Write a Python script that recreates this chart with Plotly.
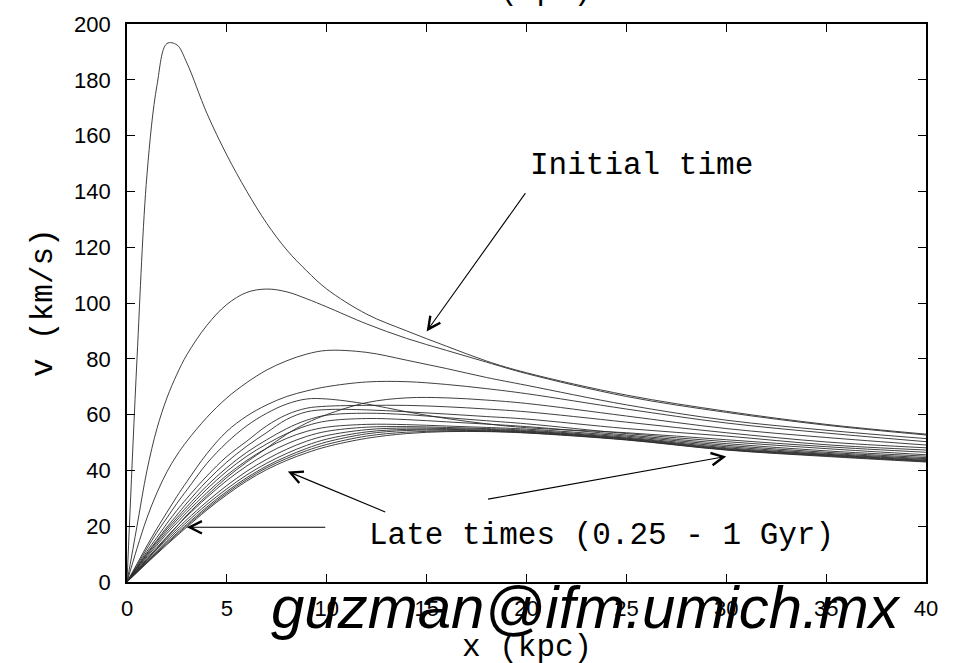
import plotly.graph_objects as go

# radius grid (kpc)
x_kpc = [0, 0.5, 1, 1.5, 2, 2.5, 3, 4, 5, 6, 7, 8, 9, 10, 12, 14, 16, 18, 20, 25, 30, 35, 40]

# rotation curves v (km/s), from the initial time to late times
v_initial = [0, 80, 146, 178, 193, 192.5, 186, 168, 153, 140, 128.5, 119, 111.5, 105, 96, 90, 84.5, 79.2, 75, 67, 61.2, 56.5, 53.0]
v_t02 = [0, 20, 40, 55, 66, 74.5, 81.5, 92, 99.5, 103.8, 105, 104, 101.5, 98.6, 92.5, 87.3, 83, 78.8, 74.7, 66.5, 60.8, 56.2, 52.7]
v_t03 = [0, 12, 23, 32, 39.5, 45.5, 50.5, 59, 66, 71.5, 76, 79.3, 81.7, 83, 82.3, 79.5, 76.5, 73.3, 70.5, 63.5, 58, 54.4, 51.4]
v_t04 = [0, 6.5, 13, 19.2, 25, 30.7, 36, 46, 54, 59.5, 63.5, 66.5, 68.5, 70, 71.7, 71.8, 70.8, 69.3, 67.5, 62, 57, 53.4, 50.3]
v_t05 = [0, 4, 8, 12, 16, 20, 24, 31, 37.5, 43, 48, 53, 57, 60, 64.3, 66, 66, 65.2, 64, 59.5, 55, 51.8, 49.1]
v_t06 = [0, 6, 12, 17.8, 23, 28.2, 33, 42.5, 50, 56, 60.5, 63.8, 65.6, 65.6, 63.8, 61, 58.6, 56.7, 55.3, 53.5, 51.0, 48.5, 46.5]
v_t07 = [0, 5.5, 11, 16, 21, 25.7, 30, 38, 45, 50.5, 56, 60, 62.3, 63, 63.3, 63.3, 62.8, 62, 61, 57.3, 53.5, 50.2, 48.1]
v_t08 = [0, 5.2, 10.3, 15, 19.7, 24, 28.3, 36.2, 43, 48.7, 53.6, 58.3, 61.0, 61.8, 61.7, 61.0, 60.2, 59.3, 58.4, 55, 52.3, 49.2, 47.3]
v_t09 = [0, 5, 10, 14.5, 19, 23, 27, 34.5, 41, 46.5, 51, 55, 58, 59.8, 60.5, 60, 58.9, 57.8, 56.7, 53.2, 50.3, 47.8, 45.6]
v_t10 = [0, 4.8, 9.5, 13.9, 18.2, 22.2, 26, 33.3, 39.7, 45.1, 49.5, 53.2, 56, 57.7, 58.6, 58.2, 57.4, 56.6, 55.7, 52.7, 49.6, 47.0, 45.1]
v_t11 = [0, 4.5, 9, 13.2, 17.4, 21.2, 25, 32, 38.3, 43.6, 48, 51.5, 54, 55.5, 56.5, 56.4, 55.9, 55.4, 54.8, 52.3, 49.0, 46.5, 44.6]
v_t12 = [0, 4.2, 8.4, 12.4, 16.3, 20, 23.6, 30.3, 36.4, 41.6, 46, 49.5, 52.2, 54, 55.5, 55.7, 55.4, 55, 54.4, 51.9, 48.5, 46.1, 44.2]
v_t13 = [0, 4.0, 8.0, 11.8, 15.5, 19, 22.4, 28.8, 34.6, 39.7, 44, 47.6, 50.5, 52.5, 54.6, 55.2, 55, 54.7, 54.1, 51.6, 48.1, 45.8, 43.9]
v_t14 = [0, 3.8, 7.6, 11.2, 14.8, 18.2, 21.5, 27.8, 33.4, 38.4, 42.6, 46.1, 49, 51.2, 53.8, 54.7, 54.7, 54.4, 53.9, 51.4, 47.8, 45.6, 43.6]
v_t15 = [0, 3.6, 7.2, 10.7, 14.2, 17.5, 20.7, 26.9, 32.5, 37.4, 41.6, 45, 47.9, 50.2, 53.1, 54.3, 54.4, 54.2, 53.7, 51.2, 47.6, 45.4, 43.4]
v_t16 = [0, 3.5, 7.0, 10.4, 13.8, 17.0, 20.2, 26.3, 31.9, 36.8, 41.0, 44.3, 47.1, 49.3, 52.3, 53.7, 54.1, 54.0, 53.5, 51.0, 47.4, 45.2, 43.2]
v_t17 = [0, 3.4, 6.8, 10.1, 13.4, 16.6, 19.7, 25.8, 31.3, 36.2, 40.3, 43.6, 46.3, 48.5, 51.5, 53.2, 53.9, 53.9, 53.4, 50.9, 47.3, 45.0, 43.0]

curves = [v_initial, v_t02, v_t03, v_t04, v_t05, v_t06, v_t07, v_t08, v_t09,
          v_t10, v_t11, v_t12, v_t13, v_t14, v_t15, v_t16, v_t17]

x_ticks = [0, 5, 10, 15, 20, 25, 30, 35, 40]
y_ticks = [0, 20, 40, 60, 80, 100, 120, 140, 160, 180, 200]

fig = go.Figure()
for v in curves:
    fig.add_trace(go.Scatter(x=x_kpc, y=v, mode="lines",
                             line=dict(color="#2a2a2a", width=0.9, shape="spline", smoothing=1.0),
                             showlegend=False, hoverinfo="skip"))

mono = "Liberation Mono, Courier New, monospace"
sans = "Liberation Sans, Arial, Helvetica, sans-serif"

axis_common = dict(showline=True, linecolor="black", linewidth=1.8, mirror="ticks",
                   ticks="inside", ticklen=8, tickwidth=1.2, tickcolor="black",
                   showgrid=False, zeroline=False,
                   tickfont=dict(family=sans, size=22, color="black"))

fig.update_xaxes(range=[0, 40], tickvals=x_ticks, ticktext=[str(t) for t in x_ticks],
                 ticklabelstandoff=6, **axis_common)
fig.update_yaxes(range=[0, 200], tickvals=y_ticks, ticktext=[str(t) for t in y_ticks],
                 ticklabelstandoff=10, **axis_common)

annotations = []
# arrows
arrows = [
    (15.0, 89.8, 20.0, 139.9),   # initial time
    (3.0, 19.6, 10.0, 19.6),     # late times, horizontal
    (8.05, 39.6, 13.0, 24.9),
    (30.0, 45.0, 18.0, 29.6),
]
for hx, hy, tx, ty in arrows:
    annotations.append(dict(x=hx, y=hy, ax=tx, ay=ty, xref="x", yref="y",
                            axref="x", ayref="y", text="", showarrow=True,
                            arrowhead=5, arrowsize=2.2, arrowwidth=1.1,
                            arrowcolor="black", standoff=0))

annotations.append(dict(x=20.05, y=149.4, xref="x", yref="y", text="Initial time",
                        showarrow=False, xanchor="left", yanchor="middle",
                        font=dict(family=mono, size=31, color="black")))
annotations.append(dict(x=12.0, y=16.6, xref="x", yref="y", text="Late times (0.25 - 1 Gyr)",
                        showarrow=False, xanchor="left", yanchor="middle",
                        font=dict(family=mono, size=31, color="black")))
# axis titles
annotations.append(dict(x=0.5, y=-0.117, xref="paper", yref="paper", text="x (kpc)",
                        showarrow=False, xanchor="center", yanchor="middle",
                        font=dict(family=mono, size=31, color="black")))
annotations.append(dict(x=-0.105, y=0.5, xref="paper", yref="paper", text="v (km/s)",
                        showarrow=False, xanchor="center", yanchor="middle", textangle=-90,
                        font=dict(family=mono, size=31, color="black")))
# clipped top label
annotations.append(dict(x=0.5, y=1.0, xref="paper", yref="paper", text="x (kpc)",
                        showarrow=False, xanchor="center", yanchor="bottom", yshift=14,
                        font=dict(family=mono, size=31, color="black")))
# watermark
annotations.append(dict(x=0.575, y=-0.045, xref="paper", yref="paper", text="<i>guzman@ifm.umich.mx</i>",
                        showarrow=False, xanchor="center", yanchor="middle",
                        font=dict(family=sans, size=60, color="black")))

fig.update_layout(width=961, height=663, margin=dict(l=127, r=35, t=17, b=81),
                  plot_bgcolor="white", paper_bgcolor="white",
                  annotations=annotations)

fig.write_html("out.html")
